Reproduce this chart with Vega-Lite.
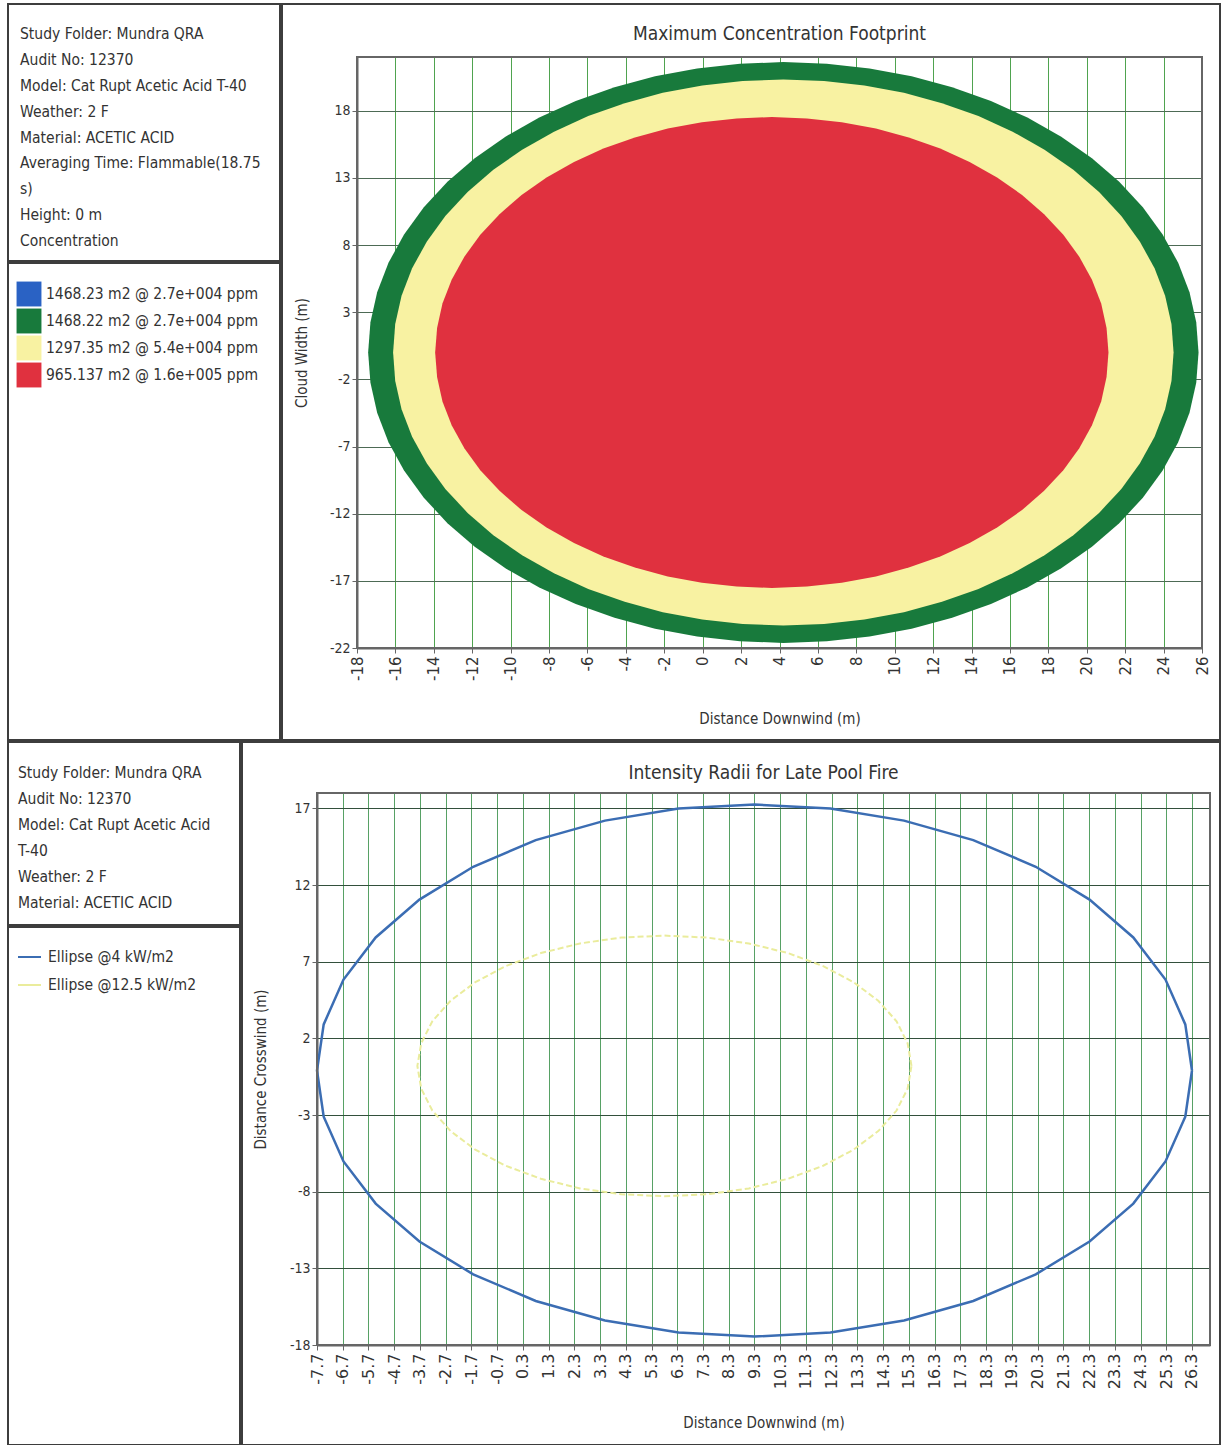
{
  "$schema": "https://vega.github.io/schema/vega-lite/v6.json",
  "padding": {"left": 7, "top": 3, "right": 0, "bottom": 0},
  "background": "white",
  "config": {
    "font": "Liberation Sans Narrow, Arial Narrow, DejaVu Sans Condensed, sans-serif",
    "view": {"stroke": "#3d3d3d", "strokeWidth": 2},
    "axis": {"labelFontSize": 14, "labelColor": "#333", "titleFontSize": 15, "titleFontWeight": "normal", "titleColor": "#333", "domainColor": "#666", "domainWidth": 2, "tickColor": "#666", "tickSize": 5, "labelPadding": 2, "labelExpr": "replace(datum.label, '\u2212', '-')"},
    "title": {"fontSize": 19, "fontWeight": "normal", "color": "#333"}
  },
  "resolve": {"scale": {"color": "independent"}},
  "datasets": {
    "info1": [
      {"i": 0, "t": "Study Folder: Mundra QRA"},
      {"i": 1, "t": "Audit No: 12370"},
      {"i": 2, "t": "Model: Cat Rupt Acetic Acid T-40"},
      {"i": 3, "t": "Weather: 2 F"},
      {"i": 4, "t": "Material: ACETIC ACID"},
      {"i": 5, "t": "Averaging Time: Flammable(18.75"},
      {"i": 6, "t": "s)"},
      {"i": 7, "t": "Height: 0 m"},
      {"i": 8, "t": "Concentration"}
    ],
    "leg1": [
      {"i": 0, "t": "1468.23 m2 @ 2.7e+004 ppm"},
      {"i": 1, "t": "1468.22 m2 @ 2.7e+004 ppm"},
      {"i": 2, "t": "1297.35 m2 @ 5.4e+004 ppm"},
      {"i": 3, "t": "965.137 m2 @ 1.6e+005 ppm"}
    ],
    "info2": [
      {"i": 0, "t": "Study Folder: Mundra QRA"},
      {"i": 1, "t": "Audit No: 12370"},
      {"i": 2, "t": "Model: Cat Rupt Acetic Acid"},
      {"i": 3, "t": "T-40"},
      {"i": 4, "t": "Weather: 2 F"},
      {"i": 5, "t": "Material: ACETIC ACID"}
    ],
    "leg2": [
      {"i": 0, "t": "Ellipse @4 kW/m2"},
      {"i": 1, "t": "Ellipse @12.5 kW/m2"}
    ],
    "foot": [
      {"c": "g", "x": 25.82, "hi": 0, "lo": 0},
      {"c": "g", "x": 25.70, "hi": 2.26, "lo": -2.26},
      {"c": "g", "x": 25.35, "hi": 4.49, "lo": -4.49},
      {"c": "g", "x": 24.76, "hi": 6.68, "lo": -6.68},
      {"c": "g", "x": 23.95, "hi": 8.79, "lo": -8.79},
      {"c": "g", "x": 22.92, "hi": 10.81, "lo": -10.81},
      {"c": "g", "x": 21.69, "hi": 12.71, "lo": -12.71},
      {"c": "g", "x": 20.27, "hi": 14.47, "lo": -14.47},
      {"c": "g", "x": 18.67, "hi": 16.07, "lo": -16.07},
      {"c": "g", "x": 16.91, "hi": 17.49, "lo": -17.49},
      {"c": "g", "x": 15.01, "hi": 18.72, "lo": -18.72},
      {"c": "g", "x": 12.99, "hi": 19.75, "lo": -19.75},
      {"c": "g", "x": 10.88, "hi": 20.56, "lo": -20.56},
      {"c": "g", "x": 8.69, "hi": 21.15, "lo": -21.15},
      {"c": "g", "x": 6.46, "hi": 21.50, "lo": -21.50},
      {"c": "g", "x": 4.2, "hi": 21.62, "lo": -21.62},
      {"c": "g", "x": 1.94, "hi": 21.50, "lo": -21.50},
      {"c": "g", "x": -0.29, "hi": 21.15, "lo": -21.15},
      {"c": "g", "x": -2.48, "hi": 20.56, "lo": -20.56},
      {"c": "g", "x": -4.59, "hi": 19.75, "lo": -19.75},
      {"c": "g", "x": -6.61, "hi": 18.72, "lo": -18.72},
      {"c": "g", "x": -8.51, "hi": 17.49, "lo": -17.49},
      {"c": "g", "x": -10.27, "hi": 16.07, "lo": -16.07},
      {"c": "g", "x": -11.87, "hi": 14.47, "lo": -14.47},
      {"c": "g", "x": -13.29, "hi": 12.71, "lo": -12.71},
      {"c": "g", "x": -14.52, "hi": 10.81, "lo": -10.81},
      {"c": "g", "x": -15.55, "hi": 8.79, "lo": -8.79},
      {"c": "g", "x": -16.36, "hi": 6.68, "lo": -6.68},
      {"c": "g", "x": -16.95, "hi": 4.49, "lo": -4.49},
      {"c": "g", "x": -17.30, "hi": 2.26, "lo": -2.26},
      {"c": "g", "x": -17.42, "hi": 0, "lo": 0},
      {"c": "y", "x": 24.52, "hi": 0, "lo": 0},
      {"c": "y", "x": 24.41, "hi": 2.12, "lo": -2.12},
      {"c": "y", "x": 24.08, "hi": 4.22, "lo": -4.22},
      {"c": "y", "x": 23.53, "hi": 6.28, "lo": -6.28},
      {"c": "y", "x": 22.76, "hi": 8.26, "lo": -8.26},
      {"c": "y", "x": 21.80, "hi": 10.16, "lo": -10.16},
      {"c": "y", "x": 20.64, "hi": 11.94, "lo": -11.94},
      {"c": "y", "x": 19.30, "hi": 13.60, "lo": -13.60},
      {"c": "y", "x": 17.80, "hi": 15.10, "lo": -15.10},
      {"c": "y", "x": 16.14, "hi": 16.44, "lo": -16.44},
      {"c": "y", "x": 14.36, "hi": 17.60, "lo": -17.60},
      {"c": "y", "x": 12.46, "hi": 18.56, "lo": -18.56},
      {"c": "y", "x": 10.48, "hi": 19.33, "lo": -19.33},
      {"c": "y", "x": 8.42, "hi": 19.88, "lo": -19.88},
      {"c": "y", "x": 6.32, "hi": 20.21, "lo": -20.21},
      {"c": "y", "x": 4.2, "hi": 20.32, "lo": -20.32},
      {"c": "y", "x": 2.08, "hi": 20.21, "lo": -20.21},
      {"c": "y", "x": -0.02, "hi": 19.88, "lo": -19.88},
      {"c": "y", "x": -2.08, "hi": 19.33, "lo": -19.33},
      {"c": "y", "x": -4.06, "hi": 18.56, "lo": -18.56},
      {"c": "y", "x": -5.96, "hi": 17.60, "lo": -17.60},
      {"c": "y", "x": -7.74, "hi": 16.44, "lo": -16.44},
      {"c": "y", "x": -9.40, "hi": 15.10, "lo": -15.10},
      {"c": "y", "x": -10.90, "hi": 13.60, "lo": -13.60},
      {"c": "y", "x": -12.24, "hi": 11.94, "lo": -11.94},
      {"c": "y", "x": -13.40, "hi": 10.16, "lo": -10.16},
      {"c": "y", "x": -14.36, "hi": 8.26, "lo": -8.26},
      {"c": "y", "x": -15.13, "hi": 6.28, "lo": -6.28},
      {"c": "y", "x": -15.68, "hi": 4.22, "lo": -4.22},
      {"c": "y", "x": -16.01, "hi": 2.12, "lo": -2.12},
      {"c": "y", "x": -16.12, "hi": 0, "lo": 0},
      {"c": "r", "x": 21.13, "hi": 0, "lo": 0},
      {"c": "r", "x": 21.03, "hi": 1.83, "lo": -1.83},
      {"c": "r", "x": 20.75, "hi": 3.64, "lo": -3.64},
      {"c": "r", "x": 20.27, "hi": 5.42, "lo": -5.42},
      {"c": "r", "x": 19.61, "hi": 7.13, "lo": -7.13},
      {"c": "r", "x": 18.78, "hi": 8.77, "lo": -8.77},
      {"c": "r", "x": 17.78, "hi": 10.30, "lo": -10.30},
      {"c": "r", "x": 16.63, "hi": 11.73, "lo": -11.73},
      {"c": "r", "x": 15.33, "hi": 13.03, "lo": -13.03},
      {"c": "r", "x": 13.90, "hi": 14.18, "lo": -14.18},
      {"c": "r", "x": 12.37, "hi": 15.18, "lo": -15.18},
      {"c": "r", "x": 10.73, "hi": 16.01, "lo": -16.01},
      {"c": "r", "x": 9.02, "hi": 16.67, "lo": -16.67},
      {"c": "r", "x": 7.24, "hi": 17.15, "lo": -17.15},
      {"c": "r", "x": 5.43, "hi": 17.43, "lo": -17.43},
      {"c": "r", "x": 3.6, "hi": 17.53, "lo": -17.53},
      {"c": "r", "x": 1.77, "hi": 17.43, "lo": -17.43},
      {"c": "r", "x": -0.04, "hi": 17.15, "lo": -17.15},
      {"c": "r", "x": -1.82, "hi": 16.67, "lo": -16.67},
      {"c": "r", "x": -3.53, "hi": 16.01, "lo": -16.01},
      {"c": "r", "x": -5.17, "hi": 15.18, "lo": -15.18},
      {"c": "r", "x": -6.70, "hi": 14.18, "lo": -14.18},
      {"c": "r", "x": -8.13, "hi": 13.03, "lo": -13.03},
      {"c": "r", "x": -9.43, "hi": 11.73, "lo": -11.73},
      {"c": "r", "x": -10.58, "hi": 10.30, "lo": -10.30},
      {"c": "r", "x": -11.58, "hi": 8.77, "lo": -8.77},
      {"c": "r", "x": -12.41, "hi": 7.13, "lo": -7.13},
      {"c": "r", "x": -13.07, "hi": 5.42, "lo": -5.42},
      {"c": "r", "x": -13.55, "hi": 3.64, "lo": -3.64},
      {"c": "r", "x": -13.83, "hi": 1.83, "lo": -1.83},
      {"c": "r", "x": -13.93, "hi": 0, "lo": 0}
    ],
    "fire": [
      {"e": "4", "i": 0, "x": 26.3, "y": -0.1},
      {"e": "4", "i": 1, "x": 26.04, "y": 2.91},
      {"e": "4", "i": 2, "x": 25.27, "y": 5.83},
      {"e": "4", "i": 3, "x": 24.02, "y": 8.58},
      {"e": "4", "i": 4, "x": 22.32, "y": 11.05},
      {"e": "4", "i": 5, "x": 20.23, "y": 13.19},
      {"e": "4", "i": 6, "x": 17.8, "y": 14.93},
      {"e": "4", "i": 7, "x": 15.11, "y": 16.2},
      {"e": "4", "i": 8, "x": 12.25, "y": 16.99},
      {"e": "4", "i": 9, "x": 9.3, "y": 17.25},
      {"e": "4", "i": 10, "x": 6.35, "y": 16.99},
      {"e": "4", "i": 11, "x": 3.49, "y": 16.2},
      {"e": "4", "i": 12, "x": 0.8, "y": 14.93},
      {"e": "4", "i": 13, "x": -1.63, "y": 13.19},
      {"e": "4", "i": 14, "x": -3.72, "y": 11.05},
      {"e": "4", "i": 15, "x": -5.42, "y": 8.58},
      {"e": "4", "i": 16, "x": -6.67, "y": 5.83},
      {"e": "4", "i": 17, "x": -7.44, "y": 2.91},
      {"e": "4", "i": 18, "x": -7.7, "y": -0.1},
      {"e": "4", "i": 19, "x": -7.44, "y": -3.11},
      {"e": "4", "i": 20, "x": -6.67, "y": -6.03},
      {"e": "4", "i": 21, "x": -5.42, "y": -8.78},
      {"e": "4", "i": 22, "x": -3.72, "y": -11.25},
      {"e": "4", "i": 23, "x": -1.63, "y": -13.39},
      {"e": "4", "i": 24, "x": 0.8, "y": -15.13},
      {"e": "4", "i": 25, "x": 3.49, "y": -16.4},
      {"e": "4", "i": 26, "x": 6.35, "y": -17.19},
      {"e": "4", "i": 27, "x": 9.3, "y": -17.45},
      {"e": "4", "i": 28, "x": 12.25, "y": -17.19},
      {"e": "4", "i": 29, "x": 15.11, "y": -16.4},
      {"e": "4", "i": 30, "x": 17.8, "y": -15.13},
      {"e": "4", "i": 31, "x": 20.23, "y": -13.39},
      {"e": "4", "i": 32, "x": 22.32, "y": -11.25},
      {"e": "4", "i": 33, "x": 24.02, "y": -8.78},
      {"e": "4", "i": 34, "x": 25.27, "y": -6.03},
      {"e": "4", "i": 35, "x": 26.04, "y": -3.11},
      {"e": "4", "i": 36, "x": 26.3, "y": -0.1},
      {"e": "12.5", "i": 0, "x": 15.4, "y": 0.2},
      {"e": "12.5", "i": 1, "x": 15.25, "y": 1.68},
      {"e": "12.5", "i": 2, "x": 14.82, "y": 3.11},
      {"e": "12.5", "i": 3, "x": 14.11, "y": 4.45},
      {"e": "12.5", "i": 4, "x": 13.15, "y": 5.66},
      {"e": "12.5", "i": 5, "x": 11.97, "y": 6.71},
      {"e": "12.5", "i": 6, "x": 10.6, "y": 7.56},
      {"e": "12.5", "i": 7, "x": 9.08, "y": 8.19},
      {"e": "12.5", "i": 8, "x": 7.47, "y": 8.57},
      {"e": "12.5", "i": 9, "x": 5.8, "y": 8.7},
      {"e": "12.5", "i": 10, "x": 4.13, "y": 8.57},
      {"e": "12.5", "i": 11, "x": 2.52, "y": 8.19},
      {"e": "12.5", "i": 12, "x": 1.0, "y": 7.56},
      {"e": "12.5", "i": 13, "x": -0.37, "y": 6.71},
      {"e": "12.5", "i": 14, "x": -1.55, "y": 5.66},
      {"e": "12.5", "i": 15, "x": -2.51, "y": 4.45},
      {"e": "12.5", "i": 16, "x": -3.22, "y": 3.11},
      {"e": "12.5", "i": 17, "x": -3.65, "y": 1.68},
      {"e": "12.5", "i": 18, "x": -3.8, "y": 0.2},
      {"e": "12.5", "i": 19, "x": -3.65, "y": -1.28},
      {"e": "12.5", "i": 20, "x": -3.22, "y": -2.71},
      {"e": "12.5", "i": 21, "x": -2.51, "y": -4.05},
      {"e": "12.5", "i": 22, "x": -1.55, "y": -5.26},
      {"e": "12.5", "i": 23, "x": -0.37, "y": -6.31},
      {"e": "12.5", "i": 24, "x": 1.0, "y": -7.16},
      {"e": "12.5", "i": 25, "x": 2.52, "y": -7.79},
      {"e": "12.5", "i": 26, "x": 4.13, "y": -8.17},
      {"e": "12.5", "i": 27, "x": 5.8, "y": -8.3},
      {"e": "12.5", "i": 28, "x": 7.47, "y": -8.17},
      {"e": "12.5", "i": 29, "x": 9.08, "y": -7.79},
      {"e": "12.5", "i": 30, "x": 10.6, "y": -7.16},
      {"e": "12.5", "i": 31, "x": 11.97, "y": -6.31},
      {"e": "12.5", "i": 32, "x": 13.15, "y": -5.26},
      {"e": "12.5", "i": 33, "x": 14.11, "y": -4.05},
      {"e": "12.5", "i": 34, "x": 14.82, "y": -2.71},
      {"e": "12.5", "i": 35, "x": 15.25, "y": -1.28},
      {"e": "12.5", "i": 36, "x": 15.4, "y": 0.2}
    ]
  },
  "vconcat": [
    {
      "resolve": {"scale": {"color": "independent"}},
      "hconcat": [
        {
          "resolve": {"scale": {"color": "independent"}},
          "vconcat": [
            {
              "width": 272, "height": 257,
              "data": {"name": "info1"},
              "mark": {"type": "text", "align": "left", "baseline": "middle", "fontSize": 15.5, "color": "#333"},
              "encoding": {
                "x": {"datum": 0, "type": "quantitative", "scale": {"domain": [0, 1], "range": [12, 262]}, "axis": null},
                "y": {"field": "i", "type": "quantitative", "scale": {"domain": [0, 8], "range": [30, 237], "zero": false, "nice": false}, "axis": null},
                "text": {"field": "t"}
              }
            },
            {
              "width": 272, "height": 477,
              "data": {"name": "leg1"},
              "encoding": {
                "y": {"field": "i", "type": "quantitative", "scale": {"domain": [0, 3], "range": [31, 112], "zero": false, "nice": false}, "axis": null}
              },
              "layer": [
                {
                  "mark": {"type": "point", "shape": "square", "filled": true, "size": 620, "opacity": 1},
                  "encoding": {
                    "x": {"datum": 0, "type": "quantitative", "scale": {"domain": [0, 1], "range": [21, 38]}, "axis": null},
                    "color": {"field": "t", "type": "nominal", "scale": {"domain": ["1468.23 m2 @ 2.7e+004 ppm", "1468.22 m2 @ 2.7e+004 ppm", "1297.35 m2 @ 5.4e+004 ppm", "965.137 m2 @ 1.6e+005 ppm"], "range": ["#2a62c4", "#187a3c", "#f8f2a2", "#e0313f"]}, "legend": null}
                  }
                },
                {
                  "mark": {"type": "text", "align": "left", "baseline": "middle", "fontSize": 15.5, "color": "#333"},
                  "encoding": {
                    "x": {"datum": 1, "type": "quantitative", "scale": {"domain": [0, 1], "range": [21, 38]}, "axis": null},
                    "text": {"field": "t"}
                  }
                }
              ]
            }
          ],
          "spacing": 0
        },
        {
          "width": 938, "height": 736,
          "title": {"text": "Maximum Concentration Footprint", "anchor": "middle", "frame": "group", "offset": -55, "dx": 28.5, "baseline": "alphabetic"},
          "resolve": {"axis": {"x": "independent"}},
          "layer": [
            {
              "data": {"name": "foot"},
              "transform": [{"filter": "datum.c === 'g'"}],
              "mark": {"type": "area", "color": "#187a3c", "opacity": 1},
              "encoding": {
                "x": {"field": "x", "type": "quantitative", "scale": {"domain": [-18, 26], "range": [75, 920], "zero": false, "nice": false},
                      "axis": {"orient": "top", "grid": true, "gridColor": "#4fa34f", "gridWidth": 1, "labels": false, "ticks": false, "domain": false, "title": null, "values": [-18, -16, -14, -12, -10, -8, -6, -4, -2, 0, 2, 4, 6, 8, 10, 12, 14, 16, 18, 20, 22, 24, 26]}},
                "y": {"field": "hi", "type": "quantitative", "scale": {"domain": [-22, 22], "range": [644, 53], "zero": false, "nice": false},
                      "axis": {"grid": true, "gridColor": "#4d6a55", "gridWidth": 1, "values": [-22, -17, -12, -7, -2, 3, 8, 13, 18], "offset": -75, "title": "Cloud Width (m)", "titleX": -56, "titleBaseline": "middle"}},
                "y2": {"field": "lo"}
              }
            },
            {
              "data": {"name": "foot"},
              "transform": [{"filter": "datum.c === 'y'"}],
              "mark": {"type": "area", "color": "#f8f2a2", "opacity": 1},
              "encoding": {
                "x": {"field": "x", "type": "quantitative", "axis": null},
                "y": {"field": "hi", "type": "quantitative"},
                "y2": {"field": "lo"}
              }
            },
            {
              "data": {"name": "foot"},
              "transform": [{"filter": "datum.c === 'r'"}],
              "mark": {"type": "area", "color": "#e0313f", "opacity": 1},
              "encoding": {
                "x": {"field": "x", "type": "quantitative",
                      "axis": {"orient": "bottom", "grid": false, "offset": -92, "values": [-18, -16, -14, -12, -10, -8, -6, -4, -2, 0, 2, 4, 6, 8, 10, 12, 14, 16, 18, 20, 22, 24, 26], "labelAngle": 270, "labelOverlap": false, "labelFont": "DejaVu Sans", "labelFontSize": 15, "labelPadding": 3, "title": "Distance Downwind (m)", "titleY": 70, "titleBaseline": "middle"}},
                "y": {"field": "hi", "type": "quantitative"},
                "y2": {"field": "lo"}
              }
            },
            {
              "data": {"values": [{"frame": 1}]},
              "mark": {"type": "rect", "fill": null, "fillOpacity": 0, "stroke": "#666", "strokeWidth": 2},
              "encoding": {
                "x": {"datum": -18, "type": "quantitative", "axis": null},
                "x2": {"datum": 26},
                "y": {"datum": -22, "type": "quantitative"},
                "y2": {"datum": 22}
              }
            }
          ]
        }
      ],
      "spacing": 0
    },
    {
      "resolve": {"scale": {"color": "independent"}},
      "hconcat": [
        {
          "resolve": {"scale": {"color": "independent"}},
          "vconcat": [
            {
              "width": 232, "height": 183,
              "data": {"name": "info2"},
              "mark": {"type": "text", "align": "left", "baseline": "middle", "fontSize": 15.5, "color": "#333"},
              "encoding": {
                "x": {"datum": 0, "type": "quantitative", "scale": {"domain": [0, 1], "range": [10, 228]}, "axis": null},
                "y": {"field": "i", "type": "quantitative", "scale": {"domain": [0, 5], "range": [31, 161], "zero": false, "nice": false}, "axis": null},
                "text": {"field": "t"}
              }
            },
            {
              "width": 232, "height": 518,
              "data": {"name": "leg2"},
              "encoding": {
                "y": {"field": "i", "type": "quantitative", "scale": {"domain": [0, 1], "range": [30, 58], "zero": false, "nice": false}, "axis": null}
              },
              "layer": [
                {
                  "mark": {"type": "point", "shape": "stroke", "filled": false, "size": 529, "strokeWidth": 2, "opacity": 1},
                  "encoding": {
                    "x": {"datum": 0, "type": "quantitative", "scale": {"domain": [0, 1], "range": [21.5, 40]}, "axis": null},
                    "color": {"field": "t", "type": "nominal", "scale": {"domain": ["Ellipse @4 kW/m2", "Ellipse @12.5 kW/m2"], "range": ["#3b6db3", "#eaec9c"]}, "legend": null}
                  }
                },
                {
                  "mark": {"type": "text", "align": "left", "baseline": "middle", "fontSize": 15.5, "color": "#333"},
                  "encoding": {
                    "x": {"datum": 1, "type": "quantitative", "scale": {"domain": [0, 1], "range": [21.5, 40]}, "axis": null},
                    "text": {"field": "t"}
                  }
                }
              ]
            }
          ],
          "spacing": 0
        },
        {
          "width": 978, "height": 703,
          "title": {"text": "Intensity Radii for Late Pool Fire", "anchor": "middle", "frame": "group", "offset": -56, "dx": 32.5, "baseline": "alphabetic"},
          "resolve": {"axis": {"x": "independent"}},
          "layer": [
            {
              "data": {"name": "fire"},
              "transform": [{"filter": "datum.e === '4'"}],
              "mark": {"type": "line", "color": "#3b6db3", "strokeWidth": 2.5},
              "encoding": {
                "x": {"field": "x", "type": "quantitative", "scale": {"domain": [-7.7, 27], "range": [75, 968], "zero": false, "nice": false},
                      "axis": {"orient": "top", "grid": true, "gridColor": "#57a165", "gridWidth": 1, "labels": false, "ticks": false, "domain": false, "title": null, "values": [-7.7, -6.7, -5.7, -4.7, -3.7, -2.7, -1.7, -0.7, 0.3, 1.3, 2.3, 3.3, 4.3, 5.3, 6.3, 7.3, 8.3, 9.3, 10.3, 11.3, 12.3, 13.3, 14.3, 15.3, 16.3, 17.3, 18.3, 19.3, 20.3, 21.3, 22.3, 23.3, 24.3, 25.3, 26.3]}},
                "y": {"field": "y", "type": "quantitative", "scale": {"domain": [-18, 18], "range": [603, 51], "zero": false, "nice": false},
                      "axis": {"grid": true, "gridColor": "#33503c", "gridWidth": 1, "values": [-18, -13, -8, -3, 2, 7, 12, 17], "offset": -75, "title": "Distance Crosswind (m)", "titleX": -57, "titleBaseline": "middle"}},
                "order": {"field": "i", "type": "quantitative"}
              }
            },
            {
              "data": {"name": "fire"},
              "transform": [{"filter": "datum.e === '12.5'"}],
              "mark": {"type": "line", "color": "#eaec9c", "strokeWidth": 2, "strokeDash": [6, 3]},
              "encoding": {
                "x": {"field": "x", "type": "quantitative",
                      "axis": {"orient": "bottom", "grid": false, "offset": -100, "format": ".1f", "values": [-7.7, -6.7, -5.7, -4.7, -3.7, -2.7, -1.7, -0.7, 0.3, 1.3, 2.3, 3.3, 4.3, 5.3, 6.3, 7.3, 8.3, 9.3, 10.3, 11.3, 12.3, 13.3, 14.3, 15.3, 16.3, 17.3, 18.3, 19.3, 20.3, 21.3, 22.3, 23.3, 24.3, 25.3, 26.3], "labelAngle": 270, "labelOverlap": false, "labelFont": "DejaVu Sans", "labelFontSize": 16, "labelPadding": 3, "title": "Distance Downwind (m)", "titleY": 77, "titleBaseline": "middle"}},
                "y": {"field": "y", "type": "quantitative"},
                "order": {"field": "i", "type": "quantitative"}
              }
            },
            {
              "data": {"values": [{"frame": 1}]},
              "mark": {"type": "rect", "fill": null, "fillOpacity": 0, "stroke": "#666", "strokeWidth": 2},
              "encoding": {
                "x": {"datum": -7.7, "type": "quantitative", "axis": null},
                "x2": {"datum": 27},
                "y": {"datum": -18, "type": "quantitative"},
                "y2": {"datum": 18}
              }
            }
          ]
        }
      ],
      "spacing": 0
    }
  ],
  "spacing": 0
}
